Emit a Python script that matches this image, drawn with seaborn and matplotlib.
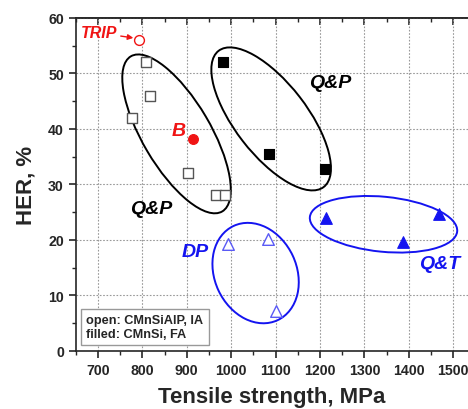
import numpy as np
import pandas as pd
import matplotlib
matplotlib.use("Agg")
import matplotlib.pyplot as plt
import seaborn as sns
from matplotlib.patches import Ellipse
from matplotlib.transforms import ScaledTranslation
from matplotlib.ticker import MultipleLocator

# === Data ===
open_qp_ts = [777, 808, 817, 902, 966, 986]
open_qp_her = [42, 52, 46, 32, 28, 28]

filled_qp_ts = [981, 1085, 1211]
filled_qp_her = [52, 35.5, 32.7]

dp_ts = [992, 1082, 1100]
dp_her = [19.3, 20.2, 7.2]

qt_ts = [1214, 1386, 1469]
qt_her = [24.0, 19.6, 24.7]

trip_ts = [793]
trip_her = [56]

bainite_ts = [914]
bainite_her = [38.2]

BLUE = "#1414f0"
RED = "#f01414"

# === Style ===
sns.set_style("ticks")
plt.rcParams["font.family"] = ["Liberation Sans", "DejaVu Sans"]
plt.rcParams["font.weight"] = "bold"

fig = plt.figure(figsize=(4.68, 4.10), dpi=100)
ax = fig.add_axes([0.1618, 0.1422, 0.838, 0.8115])

# === Points ===
sns.scatterplot(x=open_qp_ts, y=open_qp_her, marker="s", s=48, facecolor="white",
                edgecolor="#555555", linewidth=1.0, ax=ax, zorder=4)
sns.scatterplot(x=filled_qp_ts, y=filled_qp_her, marker="s", s=48, color="black",
                edgecolor="black", linewidth=0.8, ax=ax, zorder=4)
sns.scatterplot(x=dp_ts, y=dp_her, marker="^", s=70, facecolor="white",
                edgecolor="#5a5af5", linewidth=1.0, ax=ax, zorder=4)
sns.scatterplot(x=qt_ts, y=qt_her, marker="^", s=70, color=BLUE,
                edgecolor=BLUE, linewidth=0.8, ax=ax, zorder=4)
sns.scatterplot(x=trip_ts, y=trip_her, marker="o", s=50, facecolor="white",
                edgecolor=RED, linewidth=1.0, ax=ax, zorder=4)
sns.scatterplot(x=bainite_ts, y=bainite_her, marker="o", s=50, color=RED,
                edgecolor=RED, linewidth=0.8, ax=ax, zorder=4)

# === Group ellipses (centre in data units, semi-axes in pixels, tilt in degrees) ===
groups = [
    (877, 39.1, 90, 34, -59.5, "black"),
    (1090, 41.8, 86, 36, -52.3, "black"),
    (1055, 14.0, 52, 41, -65, BLUE),
    (1343, 22.8, 74, 27.5, -5.6, BLUE),
]
for cx, cy, a, b, ang, col in groups:
    e = Ellipse((0, 0), 2 * a / fig.dpi, 2 * b / fig.dpi, angle=ang,
                fill=False, edgecolor=col, linewidth=1.4,
                transform=fig.dpi_scale_trans + ScaledTranslation(cx, cy, ax.transData))
    ax.add_patch(e)

# === Labels ===
lab = dict(fontweight="bold", fontstyle="italic", ha="center", va="center")
ax.annotate("TRIP", xy=(789, 56.3), xytext=(744, 57.3), color=RED, fontsize=11.5,
            fontweight="bold", fontstyle="italic", ha="right", va="center",
            arrowprops=dict(arrowstyle="-|>", color=RED, lw=1.0, mutation_scale=8,
                            shrinkA=0, shrinkB=3))
ax.text(882, 39.7, "B", color=RED, fontsize=14, **lab)
ax.text(1222, 48.4, "Q&P", color="black", fontsize=14, **lab)
ax.text(820, 25.7, "Q&P", color="black", fontsize=14, **lab)
ax.text(918, 17.9, "DP", color=BLUE, fontsize=14, **lab)
ax.text(1470, 15.7, "Q&T", color=BLUE, fontsize=14, **lab)

ax.text(0.027, 0.032, "open: CMnSiAlP, IA\nfilled: CMnSi, FA", transform=ax.transAxes,
        fontsize=9.2, fontweight="bold", ha="left", va="bottom", linespacing=1.2,
        bbox=dict(boxstyle="square,pad=0.4", facecolor="white", edgecolor="#999999", lw=1.0),
        zorder=5)

# === Axes ===
ax.set_xlim(650, 1533)
ax.set_ylim(0, 60)
ax.xaxis.set_major_locator(MultipleLocator(100))
ax.xaxis.set_minor_locator(MultipleLocator(50))
ax.yaxis.set_major_locator(MultipleLocator(10))
ax.yaxis.set_minor_locator(MultipleLocator(5))
ax.set_xticks(range(700, 1501, 100))
ax.grid(True, which="major", linestyle=(0, (1.5, 1.5)), color="#999999", linewidth=0.8)
ax.spines["right"].set_visible(False)
for sp in ["left", "bottom", "top"]:
    ax.spines[sp].set_linewidth(1.2)
ax.tick_params(which="major", direction="out", length=5, width=1.2, labelsize=10.2)
ax.tick_params(which="minor", direction="out", length=3, width=1.0)
for t in ax.get_xticklabels() + ax.get_yticklabels():
    t.set_fontweight("bold")

# top spine ticks point inward
top = ax.secondary_xaxis("top")
top.set_xticks(range(700, 1501, 100))
top.xaxis.set_minor_locator(MultipleLocator(50))
top.tick_params(which="major", direction="in", length=5, width=1.2, labeltop=False)
top.tick_params(which="minor", direction="in", length=3, width=1.0)
top.spines["top"].set_linewidth(1.2)

ax.set_xlabel("Tensile strength, MPa", fontsize=16, fontweight="bold", labelpad=7)
ax.set_ylabel("HER, %", fontsize=16, fontweight="bold", labelpad=8)

fig.savefig("out.png", dpi=100)
